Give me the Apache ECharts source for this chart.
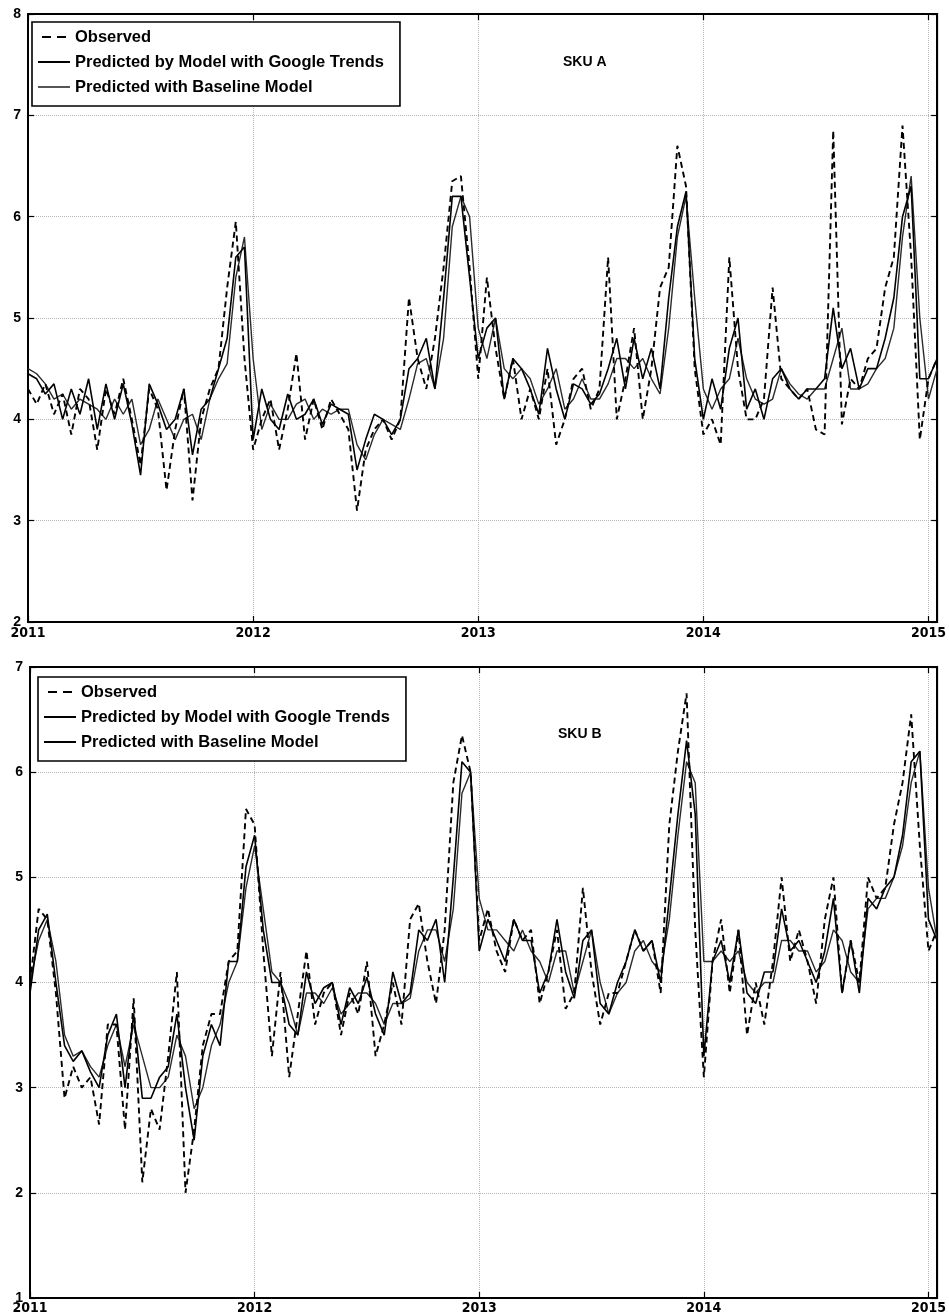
<!DOCTYPE html>
<html>
<head>
<meta charset="utf-8">
<script src="https://cdn.jsdelivr.net/npm/echarts@6/dist/echarts.min.js"></script>
<style>
html,body{margin:0;padding:0;background:#fff;}
#c{width:949px;height:1315px;}
</style>
</head>
<body>
<div id="c"></div>
<script>
// ---- tick labels ----
const yearLabels = ['2011', '2012', '2013', '2014', '2015'];
const stepsPerYear = 26; // one point every two weeks

// ---- SKU A (log sales) ----
const skuAObserved = [
4.30,4.15,4.35,4.05,4.25,3.85,4.30,4.20,3.70,4.30,4.05,4.40,4.00,3.55,4.30,4.10,3.30,3.90,4.30,3.20,4.00,4.30,4.50,5.30,5.95,4.60,
3.70,4.00,4.20,3.70,4.10,4.65,3.80,4.20,3.90,4.20,4.05,3.90,3.10,3.70,3.90,4.00,3.80,4.00,5.20,4.60,4.30,4.80,5.50,6.35,6.40,5.50,
4.40,5.40,4.70,4.20,4.60,4.00,4.30,4.00,4.50,3.75,4.00,4.40,4.50,4.10,4.30,5.60,4.00,4.40,4.90,4.00,4.50,5.30,5.50,6.70,6.30,4.50,
3.85,4.00,3.75,5.60,4.50,4.00,4.00,4.20,5.30,4.40,4.30,4.20,4.30,3.90,3.85,6.85,3.95,4.40,4.30,4.60,4.70,5.30,5.60,6.90,5.60,3.80,
4.40,4.60];
const skuAGoogle = [
4.45,4.40,4.25,4.35,4.00,4.30,4.05,4.40,3.90,4.35,4.00,4.35,3.95,3.45,4.35,4.15,3.90,4.00,4.30,3.65,4.10,4.20,4.50,4.80,5.60,5.70,
3.80,4.30,4.00,3.90,4.25,4.00,4.05,4.20,3.95,4.15,4.10,4.05,3.50,3.80,4.05,4.00,3.85,4.00,4.50,4.60,4.80,4.30,5.20,6.20,6.20,5.40,
4.60,4.90,5.00,4.20,4.60,4.50,4.30,4.05,4.70,4.30,4.00,4.35,4.30,4.15,4.25,4.50,4.80,4.30,4.80,4.40,4.70,4.30,5.20,5.90,6.25,4.60,
4.00,4.40,4.10,4.70,5.00,4.10,4.30,4.00,4.40,4.50,4.30,4.20,4.30,4.30,4.40,5.10,4.50,4.70,4.30,4.50,4.50,4.80,5.20,6.00,6.30,4.40,
4.40,4.60];
const skuABaseline = [
4.50,4.45,4.35,4.20,4.25,4.10,4.20,4.15,4.10,4.00,4.20,4.05,4.20,3.75,3.90,4.20,4.00,3.80,4.00,4.05,3.80,4.20,4.40,4.55,5.40,5.80,
4.60,3.90,4.15,4.00,4.00,4.15,4.20,4.00,4.10,4.05,4.10,4.10,3.75,3.60,3.85,4.00,3.95,3.90,4.20,4.55,4.60,4.30,4.80,5.90,6.20,6.00,
4.90,4.60,5.00,4.50,4.40,4.50,4.40,4.15,4.30,4.50,4.10,4.20,4.40,4.20,4.20,4.35,4.60,4.60,4.50,4.60,4.40,4.25,4.90,5.80,6.20,5.20,
4.30,4.10,4.30,4.40,4.80,4.40,4.20,4.15,4.20,4.50,4.35,4.25,4.20,4.30,4.30,4.60,4.90,4.30,4.30,4.35,4.50,4.60,4.90,5.80,6.40,5.00,
4.20,4.50];

// ---- SKU B (log sales) ----
const skuBObserved = [
4.00,4.70,4.60,3.90,2.90,3.20,3.00,3.10,2.65,3.60,3.60,2.60,3.85,2.10,2.80,2.60,3.30,4.10,2.00,2.60,3.40,3.70,3.70,4.20,4.30,5.65,
5.50,4.30,3.30,4.10,3.10,3.70,4.30,3.60,3.90,4.00,3.50,3.90,3.70,4.20,3.30,3.60,4.00,3.60,4.60,4.75,4.20,3.80,4.50,5.90,6.35,6.00,
4.40,4.70,4.30,4.10,4.60,4.40,4.50,3.80,4.10,4.50,3.75,3.90,4.90,4.10,3.60,3.90,3.90,4.20,4.50,4.30,4.40,3.90,5.50,6.20,6.75,4.50,
3.10,4.20,4.60,3.90,4.50,3.50,4.00,3.60,4.20,5.00,4.20,4.50,4.20,3.80,4.60,5.00,3.90,4.40,4.00,5.00,4.80,4.90,5.50,5.90,6.55,5.30,
4.30,4.50];
const skuBGoogle = [
3.90,4.50,4.65,4.00,3.40,3.25,3.35,3.15,3.00,3.50,3.70,3.00,3.70,2.90,2.90,3.10,3.20,3.70,3.00,2.50,3.30,3.60,3.40,4.20,4.20,5.10,
5.40,4.50,4.00,4.00,3.60,3.50,4.10,3.80,3.95,4.00,3.60,3.95,3.80,4.05,3.70,3.50,4.10,3.80,3.90,4.50,4.40,4.60,4.00,5.00,6.10,6.00,
4.30,4.60,4.40,4.20,4.60,4.40,4.40,3.90,4.10,4.60,4.10,3.85,4.40,4.50,3.80,3.70,4.00,4.20,4.50,4.30,4.40,4.00,4.80,5.60,6.30,5.60,
3.30,4.20,4.40,4.00,4.50,3.90,3.80,4.10,4.10,4.70,4.30,4.40,4.20,4.00,4.30,4.80,3.90,4.40,3.90,4.80,4.70,4.90,5.00,5.40,6.10,6.20,
4.60,4.40];
const skuBBaseline = [
4.00,4.40,4.60,4.20,3.50,3.30,3.35,3.20,3.10,3.40,3.60,3.20,3.60,3.30,3.00,3.00,3.10,3.50,3.30,2.80,3.00,3.40,3.60,4.00,4.20,4.90,
5.30,4.70,4.10,4.00,3.80,3.50,3.90,3.90,3.80,3.95,3.70,3.80,3.90,3.90,3.80,3.60,3.80,3.80,3.85,4.30,4.50,4.50,4.20,4.70,5.80,6.00,
4.80,4.50,4.50,4.40,4.30,4.50,4.30,4.20,4.00,4.30,4.30,3.90,4.20,4.50,4.00,3.70,3.90,4.00,4.30,4.40,4.20,4.10,4.60,5.40,6.10,5.90,
4.20,4.20,4.30,4.20,4.30,4.00,3.90,4.00,4.00,4.40,4.40,4.30,4.30,4.10,4.20,4.50,4.40,4.10,4.00,4.70,4.80,4.80,5.00,5.30,5.90,6.20,
4.90,4.40];

// category labels: one every two weeks starting 2011-01-01
const categories = skuAObserved.map(function (v, i) {
  const d = new Date(Date.UTC(2011, 0, 1) + i * 14 * 86400000);
  return d.toISOString().slice(0, 10);
});

const isYear = function (index) { return index % stepsPerYear === 0; };
const yearFmt = function (val, index) {
  return index % stepsPerYear === 0 ? yearLabels[index / stepsPerYear] : '';
};

const seriesNames = ['Observed', 'Predicted by Model with Google Trends', 'Predicted with Baseline Model'];
const gridCol = '#b5b5b5';
const axisFont = 'DejaVu Sans Condensed, Liberation Sans Narrow, DejaVu Sans, sans-serif';
const textFont = 'Liberation Sans, Arial, Helvetica, sans-serif';

function xAxisPair(gi) {
  return [{
    type: 'category', gridIndex: gi, data: categories, boundaryGap: false, position: 'bottom',
    axisLine: { show: true, lineStyle: { color: '#000', width: 2 } },
    axisTick: { show: true, inside: true, length: 6, interval: isYear, lineStyle: { color: '#000', width: 1.2 } },
    axisLabel: { show: true, interval: isYear, formatter: yearFmt, color: '#000', fontWeight: 'bold',
      fontSize: 14, fontFamily: axisFont, margin: gi === 0 ? 4 : 3, showMinLabel: true, showMaxLabel: true },
    splitLine: { show: true, interval: isYear, lineStyle: { color: gridCol, type: 'dotted', width: 1 } }
  }, {
    type: 'category', gridIndex: gi, data: categories, boundaryGap: false, position: 'top',
    axisLine: { show: true, lineStyle: { color: '#000', width: 2 } },
    axisTick: { show: true, inside: true, length: 6, interval: isYear, lineStyle: { color: '#000', width: 1.2 } },
    axisLabel: { show: false }, splitLine: { show: false }
  }];
}
function yAxisPair(gi, mn, mx) {
  return [{
    type: 'value', gridIndex: gi, min: mn, max: mx, interval: 1, position: 'left',
    axisLine: { show: true, lineStyle: { color: '#000', width: 2 } },
    axisTick: { show: true, inside: true, length: 6, lineStyle: { color: '#000', width: 1.2 } },
    axisLabel: { color: '#000', fontWeight: 'bold', fontSize: 14, fontFamily: textFont, margin: 7 },
    splitLine: { show: true, lineStyle: { color: gridCol, type: 'dotted', width: 1 } }
  }, {
    type: 'value', gridIndex: gi, min: mn, max: mx, interval: 1, position: 'right',
    axisLine: { show: true, lineStyle: { color: '#000', width: 2 } },
    axisTick: { show: true, inside: true, length: 6, lineStyle: { color: '#000', width: 1.2 } },
    axisLabel: { show: false }, splitLine: { show: false }
  }];
}
function lineSeries(name, data, gi, style) {
  return {
    name: name, type: 'line', data: data, xAxisIndex: gi * 2, yAxisIndex: gi * 2,
    showSymbol: false, symbol: 'none', smooth: false, animation: false,
    lineStyle: style, itemStyle: { color: style.color }
  };
}
const obsStyle = { color: '#000', width: 1.9, type: [6, 4] };
const gtStyle = { color: '#000', width: 1.6, type: 'solid' };
const blStyle = { color: '#2a2a2a', width: 1.4, type: 'solid' };

const dashIcon = 'path://M0,0 h9 v2 h-9 Z M15,0 h9 v2 h-9 Z';
function legendAt(left, top, thirdColor) {
  return {
    show: true,
    orient: 'vertical', left: left, top: top,
    data: [
      { name: seriesNames[0], icon: dashIcon, itemStyle: { color: '#000' } },
      { name: seriesNames[1], icon: 'rect', itemStyle: { color: '#000' } },
      { name: seriesNames[2], icon: 'rect', itemStyle: { color: thirdColor } }
    ],
    itemWidth: 32, itemHeight: 2, itemGap: 7,
    padding: [6, 16, 10, 6],
    borderColor: '#000', borderWidth: 1.6, backgroundColor: '#fff',
    selectedMode: false,
    textStyle: { color: '#000', fontWeight: 'bold', fontSize: 16.5, fontFamily: textFont, lineHeight: 18 }
  };
}

const chart = echarts.init(document.getElementById('c'), null, { renderer: 'canvas' });
chart.setOption({
  backgroundColor: '#fff',
  animation: false,
  title: [
    { text: 'SKU A', left: 558, top: 50, textStyle: { fontSize: 14, fontWeight: 'bold', color: '#000', fontFamily: textFont } },
    { text: 'SKU B', left: 553, top: 722, textStyle: { fontSize: 14, fontWeight: 'bold', color: '#000', fontFamily: textFont } }
  ],
  legend: [legendAt(32, 22, '#555'), legendAt(38, 677, '#000')],
  grid: [
    { left: 28, top: 14, width: 912, height: 608, show: true, borderColor: '#000', borderWidth: 2 },
    { left: 30, top: 667, width: 916, height: 636, show: true, borderColor: '#000', borderWidth: 2 }
  ],
  xAxis: xAxisPair(0).concat(xAxisPair(1)),
  yAxis: yAxisPair(0, 2, 8).concat(yAxisPair(1, 1, 7)),
  series: [
    lineSeries(seriesNames[2], skuABaseline, 0, blStyle),
    lineSeries(seriesNames[1], skuAGoogle, 0, gtStyle),
    lineSeries(seriesNames[0], skuAObserved, 0, obsStyle),
    lineSeries(seriesNames[2], skuBBaseline, 1, blStyle),
    lineSeries(seriesNames[1], skuBGoogle, 1, gtStyle),
    lineSeries(seriesNames[0], skuBObserved, 1, obsStyle)
  ]
});
</script>
</body>
</html>
